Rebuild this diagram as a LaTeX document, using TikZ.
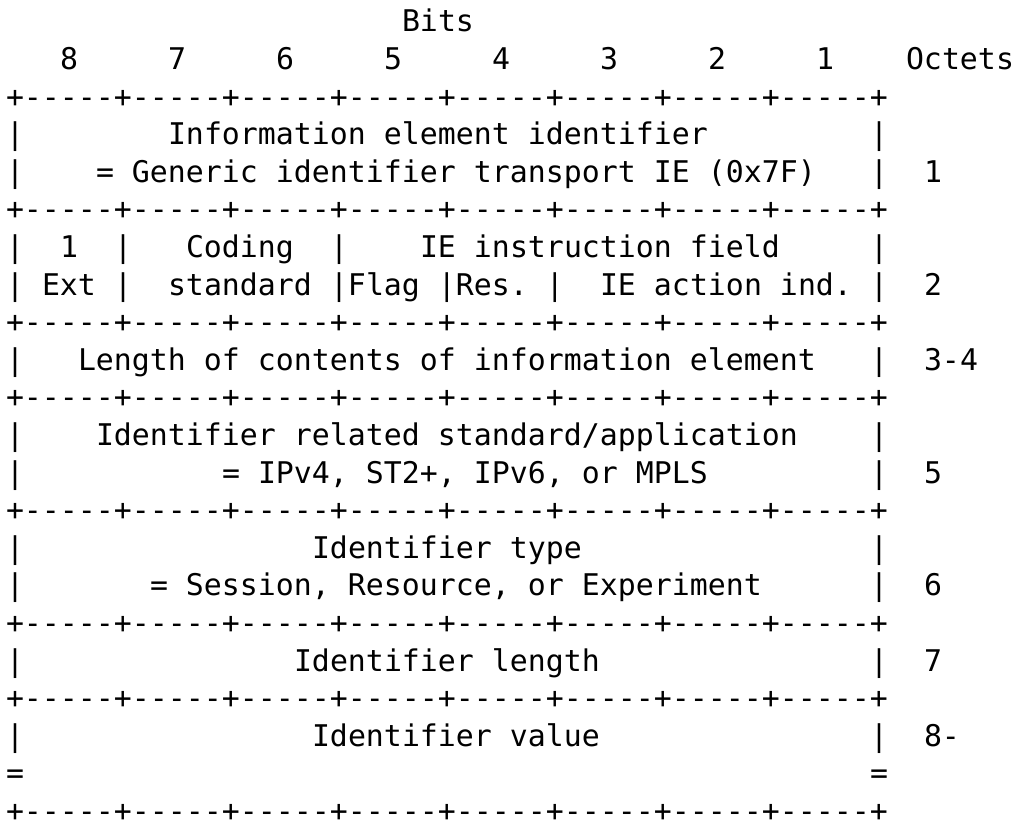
\documentclass[tikz,border=0pt]{standalone}
\usepackage{fontspec}
\newfontfamily\asciifont{DejaVu Sans Mono}
\newlength\cellw
\setlength\cellw{13.5pt}
% Typeset a string one character per fixed-width cell (spaces kept)
\ExplSyntaxOn
\NewDocumentCommand\asciicells{m}
  {
    \str_set:Nx \l_tmpa_str {#1}
    \str_map_inline:Nn \l_tmpa_str { \makebox[\cellw][c]{##1} }
  }
\ExplSyntaxOff
% \asciiat{name}{column}{row}{text}
\newcommand\asciiat[4]{\node[asciitext] (#1) at (#2,#3) {\asciicells{#4}};}
\newcommand\borderline{+-----+-----+-----+-----+-----+-----+-----+-----+}
\begin{document}
\begin{tikzpicture}[x=13.5pt, y=-28.2pt,
  asciitext/.style={inner sep=0pt, outer sep=0pt, anchor=base west,
    text depth=0pt,
    font=\asciifont\fontsize{22.4pt}{27pt}\selectfont, text=black}]
\fill[white] (-4.5pt,23.85pt) rectangle (764.25pt,-590.4pt);
\useasboundingbox (-4.5pt,23.85pt) rectangle (764.25pt,-590.4pt);

% header: bit numbers and octet column
\asciiat{bits}{22}{0}{Bits}
\asciiat{b8}{3}{1}{8}
\asciiat{b7}{9}{1}{7}
\asciiat{b6}{15}{1}{6}
\asciiat{b5}{21}{1}{5}
\asciiat{b4}{27}{1}{4}
\asciiat{b3}{33}{1}{3}
\asciiat{b2}{39}{1}{2}
\asciiat{b1}{45}{1}{1}
\asciiat{octets}{50}{1}{Octets}

% octet 1
\asciiat{rule0}{0}{2}{\borderline}
\asciiat{o1l1}{0}{3}{|}
\asciiat{o1t1}{9}{3}{Information element identifier}
\asciiat{o1r1}{48}{3}{|}
\asciiat{o1l2}{0}{4}{|}
\asciiat{o1t2}{5}{4}{= Generic identifier transport IE (0x7F)}
\asciiat{o1r2}{48}{4}{|}
\asciiat{o1n}{51}{4}{1}

% octet 2
\asciiat{rule1}{0}{5}{\borderline}
\asciiat{o2l1}{0}{6}{|}
\asciiat{o2ext1}{3}{6}{1}
\asciiat{o2s1}{6}{6}{|}
\asciiat{o2cod1}{10}{6}{Coding}
\asciiat{o2s2}{18}{6}{|}
\asciiat{o2ie1}{23}{6}{IE instruction field}
\asciiat{o2r1}{48}{6}{|}
\asciiat{o2l2}{0}{7}{|}
\asciiat{o2ext2}{2}{7}{Ext}
\asciiat{o2s3}{6}{7}{|}
\asciiat{o2cod2}{9}{7}{standard}
\asciiat{o2flag}{18}{7}{|Flag |Res. |}
\asciiat{o2ie2}{33}{7}{IE action ind.}
\asciiat{o2r2}{48}{7}{|}
\asciiat{o2n}{51}{7}{2}

% octets 3-4
\asciiat{rule2}{0}{8}{\borderline}
\asciiat{o3l}{0}{9}{|}
\asciiat{o3t}{4}{9}{Length of contents of information element}
\asciiat{o3r}{48}{9}{|}
\asciiat{o3n}{51}{9}{3-4}

% octet 5
\asciiat{rule3}{0}{10}{\borderline}
\asciiat{o5l1}{0}{11}{|}
\asciiat{o5t1}{5}{11}{Identifier related standard/application}
\asciiat{o5r1}{48}{11}{|}
\asciiat{o5l2}{0}{12}{|}
\asciiat{o5t2}{12}{12}{= IPv4, ST2+, IPv6, or MPLS}
\asciiat{o5r2}{48}{12}{|}
\asciiat{o5n}{51}{12}{5}

% octet 6
\asciiat{rule4}{0}{13}{\borderline}
\asciiat{o6l1}{0}{14}{|}
\asciiat{o6t1}{17}{14}{Identifier type}
\asciiat{o6r1}{48}{14}{|}
\asciiat{o6l2}{0}{15}{|}
\asciiat{o6t2}{8}{15}{= Session, Resource, or Experiment}
\asciiat{o6r2}{48}{15}{|}
\asciiat{o6n}{51}{15}{6}

% octet 7
\asciiat{rule5}{0}{16}{\borderline}
\asciiat{o7l}{0}{17}{|}
\asciiat{o7t}{16}{17}{Identifier length}
\asciiat{o7r}{48}{17}{|}
\asciiat{o7n}{51}{17}{7}

% octets 8 onwards
\asciiat{rule6}{0}{18}{\borderline}
\asciiat{o8l}{0}{19}{|}
\asciiat{o8t}{17}{19}{Identifier value}
\asciiat{o8r}{48}{19}{|}
\asciiat{o8n}{51}{19}{8-}
\asciiat{o8cl}{0}{20}{=}
\asciiat{o8cr}{48}{20}{=}
\asciiat{rule7}{0}{21}{\borderline}
\end{tikzpicture}
\end{document}
